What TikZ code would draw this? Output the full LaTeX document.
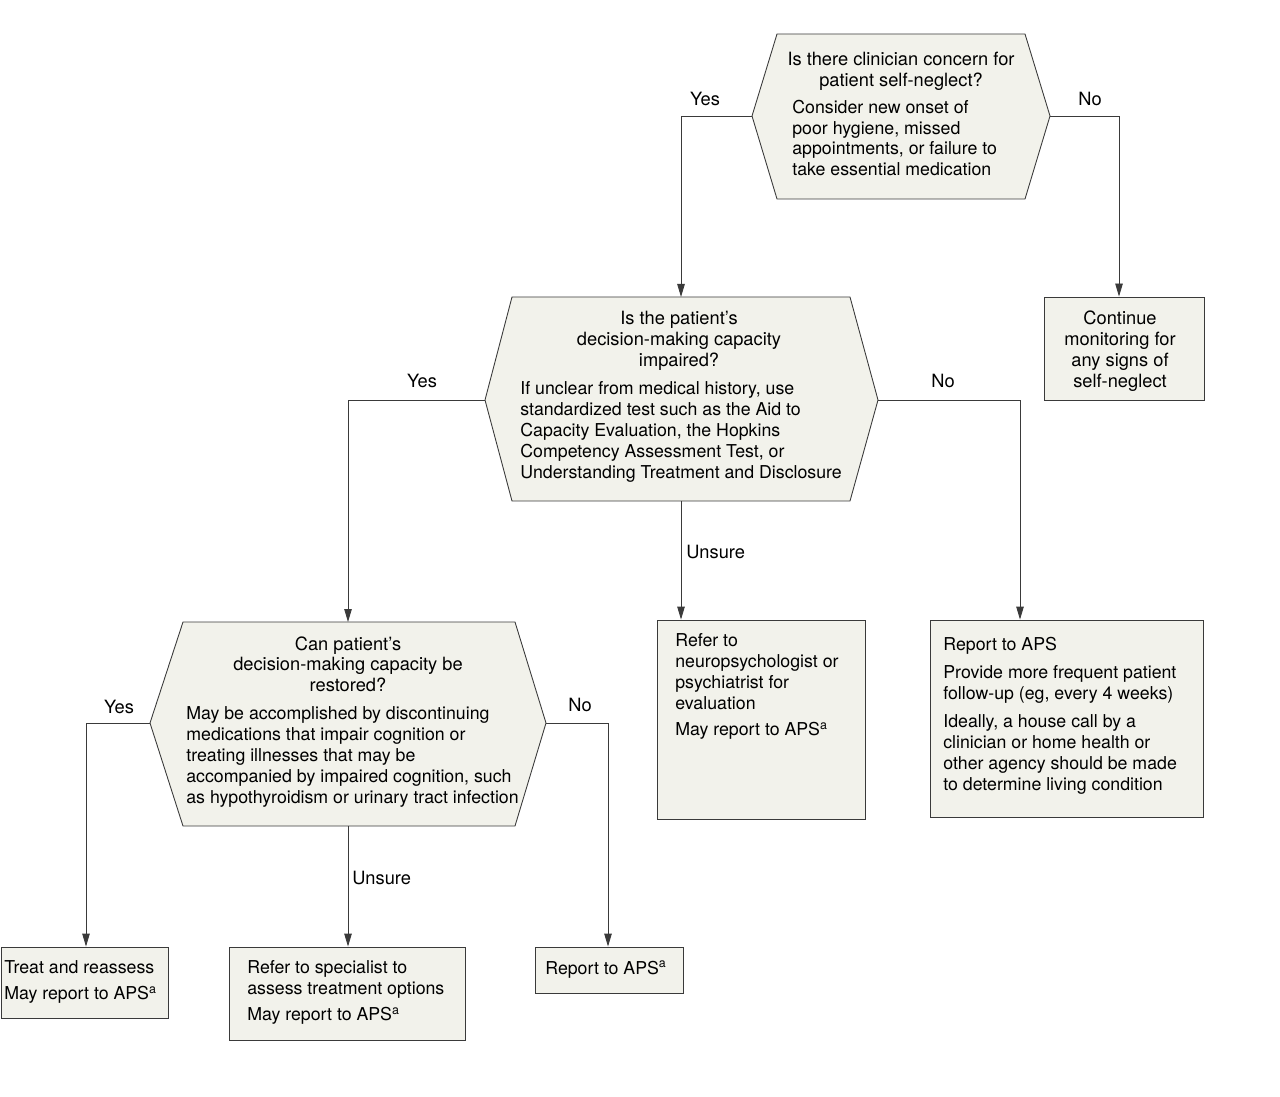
\documentclass[tikz,border=0pt]{standalone}
\usepackage{fontspec}
\setmainfont{TeX Gyre Heros}
\usepackage{tikz}
\usetikzlibrary{arrows.meta,fit}
\definecolor{boxfill}{HTML}{F2F2EB}
\definecolor{boxline}{HTML}{3A3A3A}
\tikzstyle{box}=[draw=boxline,fill=boxfill,line width=0.5pt,inner sep=0pt]
\tikzstyle{hexa}=[draw=boxline,fill=boxfill,line width=0.5pt]
\tikzstyle{to}=[-{Triangle[length=2.6mm,width=1.5mm]},draw=boxline,line width=0.5pt]

\begin{document}
\begin{tikzpicture}[x=0.02cm, y=-0.02cm]

\tikzstyle{txt}=[inner sep=0pt, font=\fontsize{10.4}{11.9}\selectfont]
\tikzstyle{title}=[txt, anchor=north, align=center]
\tikzstyle{body}=[txt, anchor=north west, align=left, font=\fontsize{10.1}{11.9}\selectfont]
\tikzstyle{lbl}=[txt]

\useasboundingbox (0,0) rectangle (1280,1097);

\coordinate (q1w) at (752,116);
\coordinate (q1e) at (1050,116);
\coordinate (q2w) at (485,400);
\coordinate (q2e) at (878,400);
\coordinate (q2n) at (681,297);
\coordinate (q2s) at (681,501);
\coordinate (q3w) at (150,723);
\coordinate (q3e) at (546,723);
\coordinate (q3n) at (348,622);
\coordinate (q3s) at (348,826);

\draw [hexa] (q1w) -- (777,34) -- (1025,34) -- (q1e) -- (1025,199) -- (777,199) -- cycle;
\draw [hexa] (q2w) -- (512,297) -- (850,297) -- (q2e) -- (850,501) -- (512,501) -- cycle;
\draw [hexa] (q3w) -- (183,622) -- (515,622) -- (q3e) -- (515,826) -- (183,826) -- cycle;

\node (q1title) [title] at (901,52) {Is there clinician concern for\\patient self-neglect?};
\node (q1body) [body] at (792,99.5) {Consider new onset of\\poor hygiene, missed\\appointments, or failure to\\take essential medication};

\node (q2title) [title] at (679,311) {Is the patient’s\\decision-making capacity\\impaired?};
\node (q2body) [body] at (520,381.5) {If unclear from medical history, use\\standardized test such as the Aid to\\Capacity Evaluation, the Hopkins\\Competency Assessment Test, or\\Understanding Treatment and Disclosure};

\node (q3title) [title] at (348,636) {Can patient’s\\decision-making capacity be\\restored?};
\node (q3body) [body] at (186,706.5) {May be accomplished by discontinuing\\medications that impair cognition or\\treating illnesses that may be\\accompanied by impaired cognition, such\\as hypothyroidism or urinary tract infection};

\node (cont) [box, fit={(1044,297) (1204,400)}] {};
\node (conttxt) [title] at (1120,310.5) {Continue\\monitoring for\\any signs of\\self-neglect};

\node (neuro) [box, fit={(657,620) (865,819)}] {};
\node (neurotxt) [body] at (675,633.5) {Refer to\\neuropsychologist or\\psychiatrist for\\evaluation\\[2.8pt]May report to APS\textsuperscript{a}};

\node (aps) [box, fit={(930,620) (1203,817)}] {};
\node (apstxt) [body] at (943,636.5) {Report to APS\\[4.2pt]Provide more frequent patient\\follow-up (eg, every 4 weeks)\\[4.2pt]Ideally, a house call by a\\clinician or home health or\\other agency should be made\\to determine living condition};

\node (treat) [box, fit={(1,947) (168,1018)}] {};
\node (treattxt) [body] at (4,960.5) {Treat and reassess\\[2.8pt]May report to APS\textsuperscript{a}};

\node (spec) [box, fit={(229,947) (465,1040)}] {};
\node (spectxt) [body] at (247,960.5) {Refer to specialist to\\assess treatment options\\[2.8pt]May report to APS\textsuperscript{a}};

\node (aps2) [box, fit={(535,947) (683,993)}] {};
\node (aps2txt) [body] at (545,960.5) {Report to APS\textsuperscript{a}};

\coordinate (t1) at (1119,116);
\coordinate (t2) at (1020,400);
\coordinate (t3) at (86,723);
\coordinate (t4) at (608,723);

\draw [to] (q1w) -| (q2n);
\draw [to] (q1e) -- (t1) -- (t1 |- cont.north);
\draw [to] (q2w) -| (q3n);
\draw [to] (q2s) -- (q2s |- neuro.north);
\draw [to] (q2e) -- (t2) -- (t2 |- aps.north);
\draw [to] (q3w) -- (t3) -- (t3 |- treat.north);
\draw [to] (q3s) -- (q3s |- spec.north);
\draw [to] (q3e) -- (t4) -- (t4 |- aps2.north);

\node (yes1) [lbl] at (705,99) {Yes};
\node (no1) [lbl] at (1090,99) {No};
\node (yes2) [lbl] at (422,381) {Yes};
\node (no2) [lbl] at (943,381) {No};
\node (uns2) [lbl, anchor=west] at (686,552) {Unsure};
\node (yes3) [lbl] at (119,707) {Yes};
\node (no3) [lbl] at (580,705) {No};
\node (uns3) [lbl, anchor=west] at (352,878) {Unsure};

\end{tikzpicture}
\end{document}
